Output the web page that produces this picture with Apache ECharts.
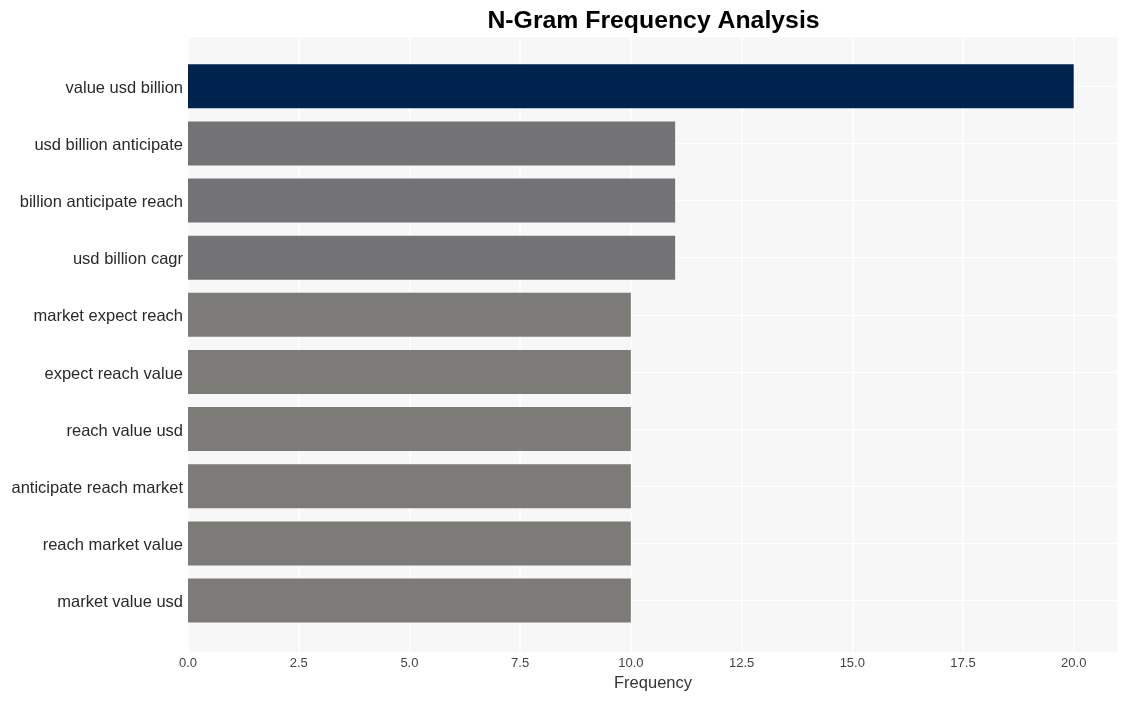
<!DOCTYPE html>
<html>
<head>
<meta charset="utf-8">
<script src="https://cdn.jsdelivr.net/npm/echarts@6/dist/echarts.min.js"></script>
<style>html,body{margin:0;padding:0;background:#fff;}#c{width:1128px;height:701px;}</style>
</head>
<body>
<div id="c"></div>
<script>
const categories = ["value usd billion","usd billion anticipate","billion anticipate reach","usd billion cagr","market expect reach","expect reach value","reach value usd","anticipate reach market","reach market value","market value usd"];
const values = [20, 11, 11, 11, 10, 10, 10, 10, 10, 10];
const barColors = ["#00224e","#737376","#737376","#737376","#7c7b77","#7c7b77","#7c7b77","#7c7b77","#7c7b77","#7c7b77"];
const xMin = 0, xMax = 21, xStep = 2.5;

const font = 'Arial, "Liberation Sans", sans-serif';
const chart = echarts.init(document.getElementById('c'), null, {renderer: 'canvas'});
chart.setOption({
  animation: false,
  backgroundColor: '#ffffff',
  title: {
    text: 'N-Gram Frequency Analysis',
    left: 648.5, top: 4, textAlign: 'center',
    textStyle: {fontFamily: font, fontSize: 24.8, fontWeight: 'bold', color: '#000'}
  },
  grid: [
    {left: 188, right: 10, top: 37, bottom: 49, show: true, backgroundColor: '#f7f7f7', borderWidth: 0},
    {left: 188, right: 10, top: 57.7, bottom: 71.9},
    {left: 188, right: 10, top: 86.3, bottom: 100.5}
  ],
  xAxis: [
    {gridIndex: 0, type: 'value', min: xMin, max: xMax, interval: xStep,
     axisLine: {show: false}, axisTick: {show: false},
     axisLabel: {fontFamily: font, fontSize: 13, color: '#444', margin: 5, showMaxLabel: false,
       formatter: v => v.toFixed(1)},
     splitLine: {show: true, lineStyle: {color: '#ffffff', width: 1.5}},
     name: 'Frequency', nameLocation: 'middle', nameGap: 23,
     nameTextStyle: {fontFamily: font, fontSize: 16.5, color: '#333', verticalAlign: 'top'}},
    {gridIndex: 1, type: 'value', min: xMin, max: xMax, show: false},
    {gridIndex: 2, type: 'value', min: xMin, max: xMax, show: false}
  ],
  yAxis: [
    {gridIndex: 0, type: 'value', show: false, splitLine: {show: false}},
    {gridIndex: 1, type: 'category', data: categories, inverse: true,
     axisLine: {show: false}, axisTick: {show: false}, splitLine: {show: false},
     axisLabel: {fontFamily: font, fontSize: 16.5, color: '#2a2a2a', margin: 5,
       verticalAlign: 'top', lineHeight: 4}},
    {gridIndex: 2, type: 'value', min: 0, max: 9, interval: 1,
     axisLine: {show: false}, axisTick: {show: false}, axisLabel: {show: false},
     splitLine: {show: true, lineStyle: {color: '#ffffff', width: 1}}}
  ],
  series: [{
    type: 'bar', xAxisIndex: 1, yAxisIndex: 1,
    data: values.map((v, i) => ({value: v, itemStyle: {color: barColors[i]}})),
    barCategoryGap: '23%'
  }]
});
</script>
</body>
</html>
